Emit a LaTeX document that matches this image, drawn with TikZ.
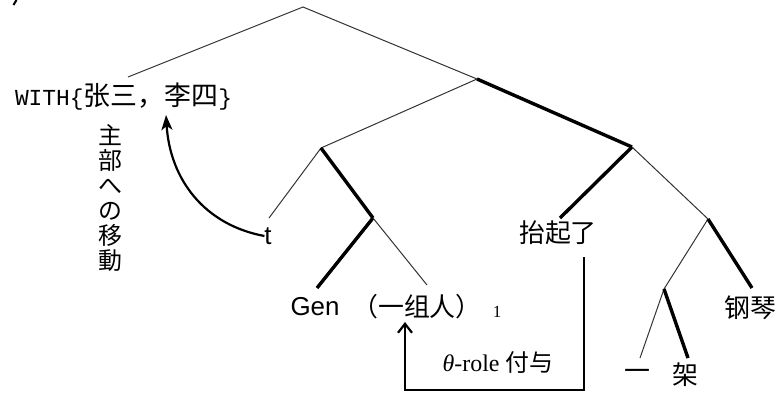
\documentclass[tikz,border=0pt]{standalone}
\usepackage{fontspec}
\setmainfont{Liberation Serif}
\newfontfamily\cjk{Noto Sans CJK SC}
\newfontfamily\jpf{Noto Sans CJK JP}
\newfontfamily\monof{Liberation Mono}
\newfontfamily\arialf{Liberation Sans}
\usetikzlibrary{arrows.meta}
\begin{document}
\begin{tikzpicture}[x=1bp,y=-1bp,
  thinbr/.style={line width=1bp, draw=black!80},
  thickbr/.style={line width=3.4bp, draw=black},
  lbl/.style={inner sep=0pt, outer sep=0pt},
  cjklbl/.style={lbl, font=\cjk\fontsize{26}{28}\selectfont},
  movearrow/.style={line width=2.2bp, -{Stealth[length=15bp,width=11bp,inset=4bp]}},
  rolearrow/.style={line width=1.7bp, -{Straight Barb[length=9bp,width=14bp,line width=2.2bp]}}]
\useasboundingbox (0,0) rectangle (779,392);
% small mark at the top left corner
\draw[line width=2bp] (13.5,5) -- (16.5,0);
% internal points of the tree
\coordinate (R) at (303,7);
\coordinate (A) at (477,79);
\coordinate (B) at (321,148);
\coordinate (C) at (632,147);
\coordinate (D) at (373,218);
\coordinate (E) at (708,219);
\coordinate (F) at (664,289);
% leaf ends
\coordinate (withE) at (128,77);
\coordinate (tE) at (269,218);
\coordinate (genE) at (317,288);
\coordinate (npE) at (427,285);
\coordinate (vE) at (560,218);
\coordinate (pianoE) at (752,288);
\coordinate (yiE) at (640,358);
\coordinate (jiaE) at (688,358);
% branches
\draw[thinbr] (withE) -- (R) -- (A);
\draw[thinbr] (A) -- (B);
\draw[thickbr] (A) -- (C);
\draw[thinbr] (B) -- (tE);
\draw[thickbr] (B) -- (D);
\draw[thickbr] (D) -- (genE);
\draw[thinbr] (D) -- (npE);
\draw[thickbr] (C) -- (vE);
\draw[thinbr] (C) -- (E);
\draw[thinbr] (E) -- (F);
\draw[thickbr] (E) -- (pianoE);
\draw[thinbr] (F) -- (yiE);
\draw[thickbr] (F) -- (jiaE);
% labels
\node[lbl, anchor=west] (with) at (15,97) {{\monof\fontsize{23}{25}\selectfont WITH\{}{\cjk\fontsize{27}{29}\selectfont 张三，李四}{\monof\fontsize{23}{25}\selectfont\}}};
\node[lbl, font=\arialf\fontsize{26}{28}\selectfont] (t) at (268,236) {t};
\node[lbl, font=\arialf\fontsize{26}{28}\selectfont] (gen) at (315,307) {Gen};
\node[cjklbl] (np) at (417,307) {（一组人）};
\node[lbl, font=\fontsize{17}{19}\selectfont] (sub) at (497,312) {1};
\node[cjklbl] (v) at (558,233) {抬起了};
\node[cjklbl] (piano) at (750,308) {钢琴};
\node[cjklbl] (yi) at (637,375) {一};
\node[cjklbl] (jia) at (685,375) {架};
\node[lbl, font=\fontsize{24}{26}\selectfont] (role) at (498,362) {{\itshape θ}-role {\cjk 付与}};
\node[lbl, align=center, font=\jpf\fontsize{24}{25}\selectfont] (move) at (110,198) {主\\部\\へ\\の\\移\\動};
% movement arrow
\coordinate (moveEnd) at (166,115);
\draw[movearrow] (t.west) .. controls (205,225) and (170,180) .. (moveEnd);
% theta-role arrow
\coordinate (vDown) at (584,257);
\coordinate (corner1) at (584,390);
\coordinate (corner2) at (405,390);
\coordinate (npUp) at (405,322);
\draw[rolearrow] (vDown) -- (corner1) -- (corner2) -- (npUp);
\end{tikzpicture}
\end{document}
